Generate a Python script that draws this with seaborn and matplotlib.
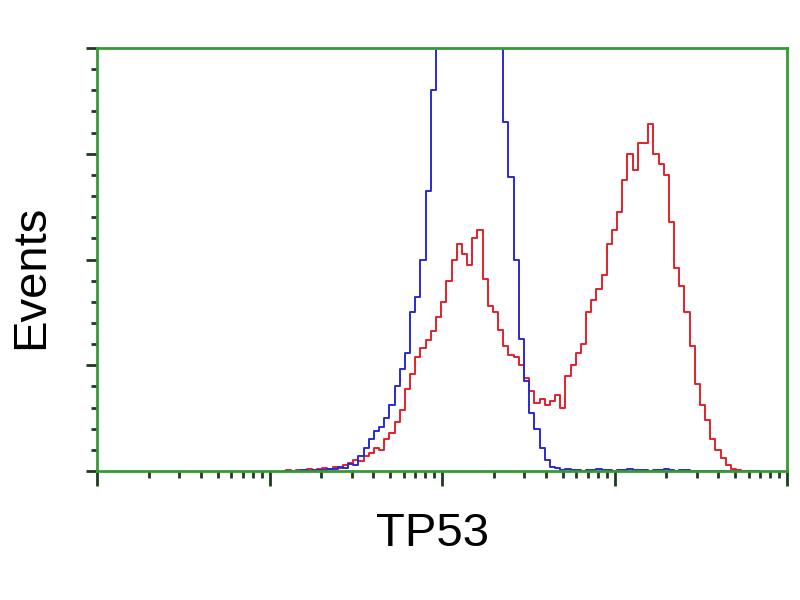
import numpy as np
import pandas as pd
import matplotlib
matplotlib.use("Agg")
import matplotlib.pyplot as plt
import seaborn as sns
from matplotlib.ticker import MultipleLocator, LogLocator, NullFormatter

# histogram channels: log10 of intensity, one bin every 0.03 decade
log_start = 1.08
log_step = 0.03

# events per channel
red_events = [0, 1, 0, 1, 1, 2, 1, 2, 3, 2,
              4, 3, 6, 8, 10, 9, 14, 17, 22, 20,
              30, 36, 46, 58, 78, 92, 108, 116, 124, 132,
              146, 160, 180, 200, 215, 205, 195, 220, 228, 182,
              156, 150, 133, 118, 110, 108, 100, 88, 76, 64,
              68, 62, 66, 72, 60, 90, 100, 112, 120, 150,
              162, 172, 185, 215, 228, 245, 275, 300, 285, 310,
              310, 328, 300, 290, 280, 235, 192, 175, 150, 118,
              82, 62, 48, 30, 20, 12, 6, 2, 1, 0,
              0, 0, 0]

blue_events = [0, 0, 0, 0, 1, 0, 1, 1, 1, 2,
               2, 4, 3, 7, 6, 14, 22, 30, 38, 42,
               50, 62, 80, 96, 112, 150, 165, 200, 265, 360,
               480, 560, 630, 690, 740, 770, 790, 780, 750, 700,
               620, 520, 410, 330, 278, 200, 125, 85, 55, 40,
               22, 10, 4, 3, 1, 2, 1, 1, 0, 1,
               1, 2, 1, 1, 0, 1, 1, 2, 1, 1,
               1, 0, 1, 1, 2, 1, 0, 1, 1, 0,
               0, 0, 0, 0, 0, 0, 0, 0, 0, 0,
               0, 0, 0]

channels = log_start + log_step * np.arange(len(red_events))

df_red = pd.DataFrame({"intensity": 10 ** channels, "events": red_events})
df_blue = pd.DataFrame({"intensity": 10 ** channels, "events": blue_events})

sns.set_style("white")
plt.rcParams["font.family"] = ["Liberation Sans", "DejaVu Sans"]

fig = plt.figure(figsize=(8, 6), dpi=100)
ax = fig.add_axes([97 / 800, 1 - 471 / 600, 690 / 800, 423 / 600])

sns.lineplot(data=df_red, x="intensity", y="events", color="#e4202a",
             drawstyle="steps-mid", linewidth=1.4, estimator=None, ax=ax)
sns.lineplot(data=df_blue, x="intensity", y="events", color="#2a2ad2",
             drawstyle="steps-mid", linewidth=1.4, estimator=None, ax=ax)

ax.set_xscale("log")
ax.set_xlim(1, 1e4)
ax.set_ylim(0, 400)

ax.xaxis.set_major_locator(LogLocator(base=10, numticks=10))
ax.xaxis.set_minor_locator(LogLocator(base=10, subs=range(2, 10), numticks=20))
ax.xaxis.set_major_formatter(NullFormatter())
ax.xaxis.set_minor_formatter(NullFormatter())
ax.yaxis.set_major_locator(MultipleLocator(100))
ax.yaxis.set_minor_locator(MultipleLocator(20))
ax.yaxis.set_major_formatter(NullFormatter())

tick_col = "#1f3a1f"
ax.tick_params(axis="x", which="major", direction="out", length=11, width=2, color=tick_col)
ax.tick_params(axis="x", which="minor", direction="out", length=5, width=2, color=tick_col)
ax.tick_params(axis="y", which="major", direction="out", length=8, width=2, color=tick_col)
ax.tick_params(axis="y", which="minor", direction="out", length=4, width=2, color=tick_col)
ax.tick_params(bottom=True, left=True, top=False, right=False, which="both")

for side in ["left", "right", "top", "bottom"]:
    ax.spines[side].set_visible(True)
    ax.spines[side].set_color("#359a35")
    ax.spines[side].set_linewidth(2)

ax.set_xlabel("TP53", fontsize=34, color="black")
ax.set_ylabel("Events", fontsize=34, va="center", color="black")
ax.xaxis.set_label_coords(0.487, -0.097)
ax.yaxis.set_label_coords(-0.096, 0.46)

fig.savefig("out.png", dpi=100, facecolor="white")
